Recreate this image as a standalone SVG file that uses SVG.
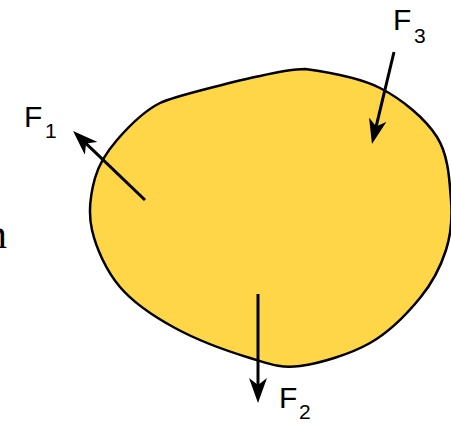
<svg xmlns="http://www.w3.org/2000/svg" width="451" height="424" viewBox="0 0 451 424">
  <style>
    .lbl { font-family: "Liberation Sans", Arial, sans-serif; fill: #000; }
    .big { font-size: 30px; }
    .sub { font-size: 21px; }
    .force { stroke: #000; stroke-width: 3; fill: none; marker-end: url(#head); }
  </style>
  <defs>
    <marker id="head" markerUnits="userSpaceOnUse" markerWidth="26" markerHeight="18" viewBox="0 0 26 18" refX="9" refY="9" orient="auto">
      <path d="M25,9 L0,0 L7,9 L0,18 Z" fill="#000"/>
    </marker>
  </defs>
  <rect width="451" height="424" fill="#fff"/>
  <text x="-14" y="248" style="font-family: 'Liberation Serif', 'Times New Roman', serif; font-size: 42px;">n</text>
  <g id="body">
    <path d="M305,69 C321.7,71.3 358,76.7 380,88 C402,99.3 425.2,118.3 437,137 C448.8,155.7 449.5,181.2 451,200 C452.5,218.8 451.2,233.7 446,250 C440.8,266.3 432.7,282.5 420,298 C407.3,313.5 390,331.7 370,343 C350,354.3 320,363.5 300,366 C280,368.5 270.8,364.3 250,358 C229.2,351.7 196.7,339.8 175,328 C153.3,316.2 133.8,303.3 120,287 C106.2,270.7 96.2,248.2 92,230 C87.8,211.8 90.8,193 95,178 C99.2,163 106.2,152.5 117,140 C127.8,127.5 145,110.5 160,103 C175,95.5 250,78 260,76 C275,72.5 290,69 305,69 Z" fill="#FFD648" stroke="#000" stroke-width="2.5"/>
  </g>
  <g id="connectors">
    <line class="force" x1="145" y1="200" x2="84.6" y2="142.1"/>
    <line class="force" x1="394" y1="52" x2="375.7" y2="128.4"/>
    <line class="force" x1="258" y1="294" x2="258" y2="387"/>
  </g>
  <g id="F1">
    <text class="lbl big" x="24" y="127">F</text>
    <text class="lbl sub" x="45" y="138">1</text>
  </g>
  <g id="F3">
    <text class="lbl big" x="393" y="30">F</text>
    <text class="lbl sub" x="414" y="43">3</text>
  </g>
  <g id="F2">
    <text class="lbl big" x="279" y="408">F</text>
    <text class="lbl sub" x="299" y="419">2</text>
  </g>
</svg>
